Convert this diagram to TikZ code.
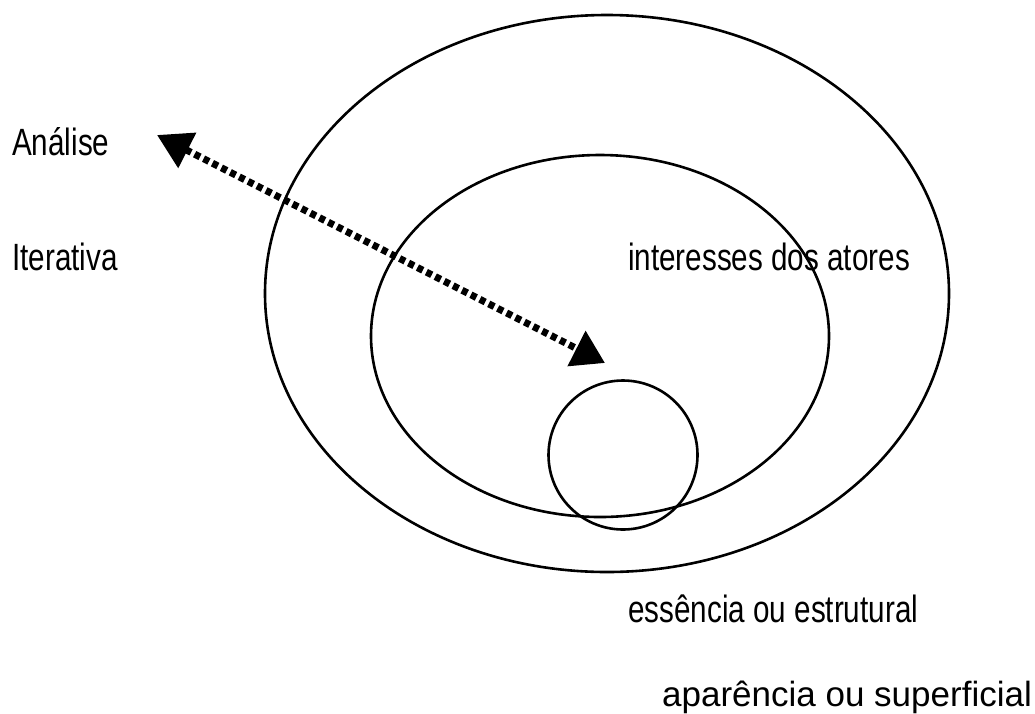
\documentclass[tikz,border=0pt]{standalone}
\usepackage{fontspec}
\setmainfont{Liberation Sans}
\newfontfamily\narrowsans[FakeStretch=0.78]{Liberation Sans}
\usepackage{tikz}
\usetikzlibrary{arrows.meta}

\begin{document}
\begin{tikzpicture}[x=1pt, y=-1pt,
  ring/.style={line width=2.6pt, black},
  narrowtxt/.style={inner sep=0pt, anchor=base west,
    font=\narrowsans\fontsize{38}{40}\selectfont},
  widetxt/.style={inner sep=0pt, anchor=base west,
    font=\fontsize{35}{38}\selectfont},
  iterarrow/.style={line width=7pt, dash pattern=on 6pt off 4pt,
    {Triangle[length=34pt, width=38pt]}-{Triangle[length=32pt, width=38pt]}}]

%% Frame
\useasboundingbox (0,0) rectangle (1035,713);

%% Nested levels
\draw[ring] (607,293.5) ellipse [x radius=342, y radius=278.5];
\draw[ring] (600,336) ellipse [x radius=229, y radius=181];
\draw[ring] (623,455) circle [radius=74.5];

%% Iterative analysis arrow
\coordinate (outerEnd) at (157,135);
\coordinate (innerEnd) at (605,363);
\draw[iterarrow] (outerEnd) -- (innerEnd);

%% Labels
\node[narrowtxt] (analise) at (12,155) {Análise};
\node[narrowtxt] (iterativa) at (12,270) {Iterativa};
\node[narrowtxt] (interesses) at (628,270) {interesses dos atores};
\node[narrowtxt] (essencia) at (628,622) {essência ou estrutural};
\node[widetxt] (aparencia) at (662,706) {aparência ou superficial};

\end{tikzpicture}
\end{document}
